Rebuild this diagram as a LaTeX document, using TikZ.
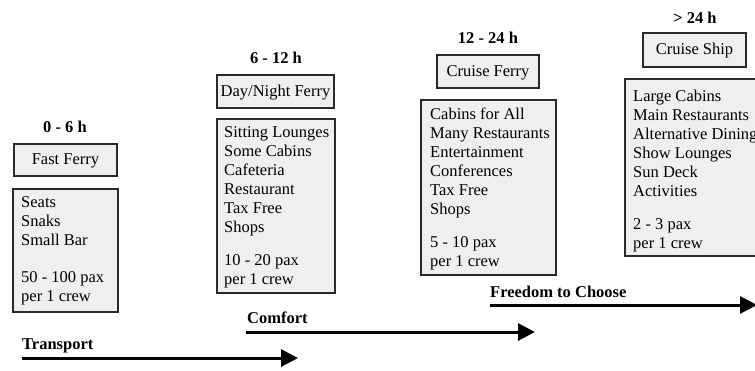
\documentclass[tikz,border=0pt]{standalone}
\usepackage{fontspec}
\setmainfont{Liberation Serif}
\usetikzlibrary{arrows.meta}
\definecolor{boxfill}{HTML}{EFEFEF}
\definecolor{boxline}{HTML}{2A2A2A}
\tikzset{
  x=1pt, y=-1pt,
  every node/.style={font=\fontsize{16.5}{19}\selectfont, inner sep=0pt},
  period/.style={font=\fontsize{16.5}{19}\selectfont\bfseries, anchor=center},
  shipbox/.style={draw=boxline, line width=1.3pt, fill=boxfill},
  listtext/.style={anchor=north west, align=left},
  trend/.style={line width=3pt, -{Triangle[length=17pt,width=17pt]}},
  trendlabel/.style={font=\fontsize{16.5}{19}\selectfont\bfseries, anchor=west},
}
\begin{document}
\begin{tikzpicture}
\clip (0,0) rectangle (755,370);
\fill[white] (0,0) rectangle (755,370);

% ---- Fast Ferry ----
\node[period] (t1) at (65,127) {0 - 6 h};
\draw[shipbox] (14,144) rectangle (117,176);
\node (n1) at (65.5,161) {Fast Ferry};
\draw[shipbox] (13,189) rectangle (118,312);
\node[listtext] (l1) at (21,196) {Seats\\Snaks\\Small Bar\\[18pt]50 - 100 pax\\per 1 crew};

% ---- Day/Night Ferry ----
\node[period] (t2) at (276,58) {6 - 12 h};
\draw[shipbox] (217,75) rectangle (334,108);
\node (n2) at (275.5,92.5) {Day/Night Ferry};
\draw[shipbox] (217,119) rectangle (335,293);
\node[listtext] (l2) at (224,126.5) {Sitting Lounges\\Some Cabins\\Cafeteria\\Restaurant\\Tax Free\\Shops\\[14pt]10 - 20 pax\\per 1 crew};

% ---- Cruise Ferry ----
\node[period] (t3) at (488,38) {12 - 24 h};
\draw[shipbox] (437,55) rectangle (539,88);
\node (n3) at (488,72.5) {Cruise Ferry};
\draw[shipbox] (421,100) rectangle (556,275);
\node[listtext] (l3) at (430,108) {Cabins for All\\Many Restaurants\\Entertainment\\Conferences\\Tax Free\\Shops\\[14pt]5 - 10 pax\\per 1 crew};

% ---- Cruise Ship ----
\node[period] (t4) at (695,18) {> 24 h};
\draw[shipbox] (643,33) rectangle (746,67);
\node (n4) at (694.5,51) {Cruise Ship};
\draw[shipbox] (625,79) rectangle (780,256);
\node[listtext] (l4) at (633,90) {Large Cabins\\Main Restaurants\\Alternative Dining\\Show Lounges\\Sun Deck\\Activities\\[14pt]2 - 3 pax\\per 1 crew};

% ---- trend arrows ----
\node[trendlabel] (a1) at (22,345.5) {Transport};
\coordinate (a1s) at (22,358);
\coordinate (a1e) at (298,358);
\draw[trend] (a1s) -- (a1e);

\node[trendlabel] (a2) at (247,318) {Comfort};
\coordinate (a2s) at (246,332);
\coordinate (a2e) at (535,332);
\draw[trend] (a2s) -- (a2e);

\node[trendlabel] (a3) at (490,292) {Freedom to Choose};
\coordinate (a3s) at (490,305);
\coordinate (a3e) at (757,305);
\draw[trend] (a3s) -- (a3e);
\end{tikzpicture}
\end{document}
